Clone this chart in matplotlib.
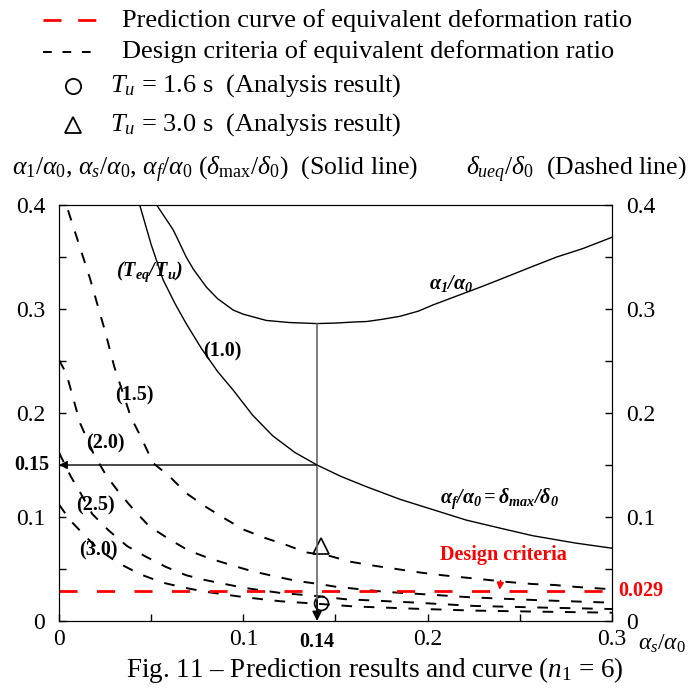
import matplotlib
matplotlib.use('Agg')
import matplotlib.pyplot as plt
from matplotlib.lines import Line2D

plt.rcParams['font.family'] = ['Liberation Serif', 'DejaVu Serif']
plt.rcParams['mathtext.fontset'] = 'custom'
plt.rcParams['mathtext.rm'] = 'Liberation Serif'
plt.rcParams['mathtext.it'] = 'Liberation Serif:italic'
plt.rcParams['mathtext.bf'] = 'Liberation Serif:bold:italic'

# solid lines (left axis)
a1_x = [0.053, 0.056, 0.059, 0.062, 0.065, 0.069, 0.073, 0.080, 0.086, 0.0945, 0.100, 0.1125,
        0.125, 0.14, 0.15, 0.16, 0.167, 0.175, 0.185, 0.195, 0.203, 0.212, 0.221, 0.230, 0.240,
        0.257, 0.270, 0.284, 0.30]
a1_y = [0.400, 0.392, 0.384, 0.376, 0.365, 0.350, 0.338, 0.321, 0.310, 0.299, 0.295, 0.289,
        0.287, 0.286, 0.2865, 0.2875, 0.288, 0.290, 0.293, 0.298, 0.304, 0.310, 0.316, 0.322,
        0.329, 0.341, 0.350, 0.358, 0.369]
af_x = [0.0438, 0.050, 0.0565, 0.063, 0.069, 0.0773, 0.086, 0.0945, 0.105, 0.116, 0.128, 0.14,
        0.153, 0.167, 0.185, 0.203, 0.221, 0.240, 0.257, 0.280, 0.30]
af_y = [0.400, 0.362, 0.328, 0.305, 0.286, 0.262, 0.240, 0.222, 0.198, 0.178, 0.162, 0.150,
        0.139, 0.129, 0.117, 0.107, 0.097, 0.089, 0.082, 0.075, 0.070]

# dashed lines (right axis): Teq/Tu = 1.5, 2.0, 2.5, 3.0
d15_x = [0.0049, 0.0167, 0.0248, 0.030, 0.039, 0.0447, 0.051, 0.060, 0.069, 0.079, 0.089, 0.100,
         0.1115, 0.1235, 0.134, 0.147, 0.158, 0.1715, 0.183, 0.196, 0.208, 0.219, 0.2317, 0.2436,
         0.2566, 0.269, 0.281, 0.30]
d15_y = [0.395, 0.330, 0.280, 0.2445, 0.196, 0.176, 0.152, 0.139, 0.123, 0.1105, 0.0995, 0.088,
         0.080, 0.073, 0.066, 0.0625, 0.057, 0.053, 0.050, 0.0466, 0.044, 0.042, 0.0397, 0.0375,
         0.0356, 0.0346, 0.0327, 0.0305]
d20_x = [0.0, 0.004, 0.0115, 0.019, 0.0256, 0.0324, 0.0405, 0.049, 0.0595, 0.070, 0.081, 0.093,
         0.1045, 0.117, 0.129, 0.141, 0.150, 0.177, 0.200, 0.223, 0.260, 0.30]
d20_y = [0.251, 0.238, 0.190, 0.160, 0.140, 0.124, 0.107, 0.091, 0.079, 0.068, 0.0606, 0.054,
         0.048, 0.043, 0.0385, 0.0356, 0.033, 0.028, 0.0255, 0.0228, 0.020, 0.0176]
d25_x = [0.0, 0.0064, 0.012, 0.018, 0.027, 0.037, 0.047, 0.058, 0.069, 0.079, 0.100, 0.120,
         0.140, 0.155, 0.190, 0.225, 0.260, 0.30]
d25_y = [0.162, 0.139, 0.122, 0.103, 0.087, 0.072, 0.062, 0.052, 0.044, 0.0395, 0.032, 0.027,
         0.024, 0.021, 0.018, 0.0145, 0.013, 0.0115]
d30_x = [0.0, 0.006, 0.014, 0.022, 0.033, 0.044, 0.056, 0.068, 0.080, 0.100, 0.120, 0.140,
         0.160, 0.190, 0.225, 0.260, 0.30]
d30_y = [0.112, 0.097, 0.082, 0.068, 0.055, 0.045, 0.037, 0.032, 0.028, 0.023, 0.019, 0.0166,
         0.014, 0.012, 0.010, 0.009, 0.008]

criteria = 0.029
as_pick = 0.14
af_pick = 0.15
a1_min = 0.286
tu16 = (0.142, 0.0176)
tu30 = (0.142, 0.0724)

fig = plt.figure(figsize=(6.98, 6.91), dpi=100)
ax = fig.add_axes([0.0845, 0.1013, 0.7923, 0.602])

ax.plot(a1_x, a1_y, color='black', lw=1.0)
ax.plot(af_x, af_y, color='black', lw=1.0)
for xs, ys in [(d15_x, d15_y), (d20_x, d20_y), (d25_x, d25_y), (d30_x, d30_y)]:
    ax.plot(xs, ys, color='black', lw=1.4, dashes=(5.5, 6.0))
ax.axhline(criteria, color='red', lw=2.0, dashes=(6.5, 7.0))

ax.plot(tu16[0], tu16[1], 'o', mfc='none', mec='black', ms=10, mew=1.2)
ax.plot(tu30[0], tu30[1], '^', mfc='none', mec='black', ms=11, mew=1.2)

# guide lines with arrows
ax.plot([as_pick, as_pick], [a1_min, 0.01], color='#666666', lw=1.2)
ax.annotate('', xy=(as_pick, 0), xytext=(as_pick, 0.02),
            arrowprops=dict(arrowstyle='-|>', color='black', lw=1.2, mutation_scale=14,
                            shrinkA=0, shrinkB=0))
ax.annotate('', xy=(0, af_pick), xytext=(as_pick, af_pick),
            arrowprops=dict(arrowstyle='-|>', color='black', lw=1.0, mutation_scale=12,
                            shrinkA=0, shrinkB=0))

ax.set_xlim(0, 0.3)
ax.set_ylim(0, 0.4)
ax.set_xticks([0, 0.05, 0.1, 0.15, 0.2, 0.25, 0.3])
ax.set_xticklabels(['0', '', '0.1', '', '0.2', '', '0.3'])
ax.set_yticks([0, 0.05, 0.1, 0.15, 0.2, 0.25, 0.3, 0.35, 0.4])
ax.set_yticklabels(['0', '', '0.1', '', '0.2', '', '0.3', '', '0.4'])
ax.tick_params(direction='in', length=5, width=1, labelsize=17, pad=6)
ax.tick_params(axis='y', pad=10)

ax2 = ax.twinx()
ax2.set_ylim(0, 0.4)
ax2.set_yticks([0, 0.05, 0.1, 0.15, 0.2, 0.25, 0.3, 0.35, 0.4])
ax2.set_yticklabels(['0', '', '0.1', '', '0.2', '', '0.3', '', '0.4'])
ax2.tick_params(direction='in', length=5, width=1, labelsize=17, pad=10)

bold = dict(fontsize=14.5, fontweight='bold', ha='center', va='center')
ax.text(0.049, 0.336, r'$\mathbf{(T_{eq}/T_u)}$', fontsize=14.5, ha='center', va='center')
ax.text(0.0884, 0.259, '(1.0)', **bold)
ax.text(0.0411, 0.217, '(1.5)', **bold)
ax.text(0.0254, 0.171, '(2.0)', **bold)
ax.text(0.020, 0.1106, '(2.5)', **bold)
ax.text(0.0216, 0.068, '(3.0)', **bold)
ax.text(0.2126, 0.325, r'$\mathbf{\alpha_1/\alpha_0}$', fontsize=14.5, ha='center', va='center')
ax.text(0.239, 0.118, r'$\mathbf{\alpha_f/\alpha_0 = \delta_{max}/\delta_0}$', fontsize=14.5,
        ha='center', va='center')
ax.annotate('Design criteria', xy=(0.239, 0.030), xytext=(0.241, 0.063), color='red',
            fontsize=14.5, fontweight='bold', ha='center', va='center',
            arrowprops=dict(arrowstyle='-|>', color='red', lw=1.2, mutation_scale=10,
                            shrinkA=9, shrinkB=0))
ax.text(-0.005, af_pick, '0.15', fontsize=14.5, fontweight='bold', ha='right', va='center')
ax.text(as_pick, -0.011, '0.14', fontsize=14.5, fontweight='bold', ha='center', va='top')
ax.text(0.3035, criteria, '0.029', color='red', fontsize=14.5, fontweight='bold',
        ha='left', va='center')
ax.text(0.314, -0.011, r'$\alpha_s/\alpha_0$', fontsize=17, ha='left', va='top')

# legend block above the axes
fig.add_artist(Line2D([0.062, 0.146], [0.971, 0.971], color='red', lw=2.0, dashes=(6.5, 6.0)))
fig.add_artist(Line2D([0.062, 0.138], [0.925, 0.925], color='black', lw=1.4, dashes=(4.5, 5.5)))
fig.add_artist(Line2D([0.105], [0.8755], marker='o', mfc='none', mec='black', ms=11, mew=1.3))
fig.add_artist(Line2D([0.105], [0.819], marker='^', mfc='none', mec='black', ms=12, mew=1.3))
fig.text(0.1748, 0.971, 'Prediction curve of equivalent deformation ratio', fontsize=19, va='center')
fig.text(0.1748, 0.925, 'Design criteria of equivalent deformation ratio', fontsize=19, va='center')
fig.text(0.1576, 0.8755, r'$T_u$ = 1.6 s  (Analysis result)', fontsize=19, va='center')
fig.text(0.1576, 0.819, r'$T_u$ = 3.0 s  (Analysis result)', fontsize=19, va='center')

fig.text(0.017, 0.754, r'$\alpha_1/\alpha_0$, $\alpha_s/\alpha_0$, $\alpha_f/\alpha_0$ '
         r'($\delta_{\rm max}/\delta_0$)  (Solid line)', fontsize=18.5, va='center')
fig.text(0.983, 0.754, r'$\delta_{ueq}/\delta_0$  (Dashed line)', fontsize=18.5, va='center', ha='right')

fig.text(0.537, 0.030, r'Fig. 11 – Prediction results and curve ($n_1$ = 6)', fontsize=19.5,
         ha='center', va='center')

fig.savefig('out.png', dpi=100)
